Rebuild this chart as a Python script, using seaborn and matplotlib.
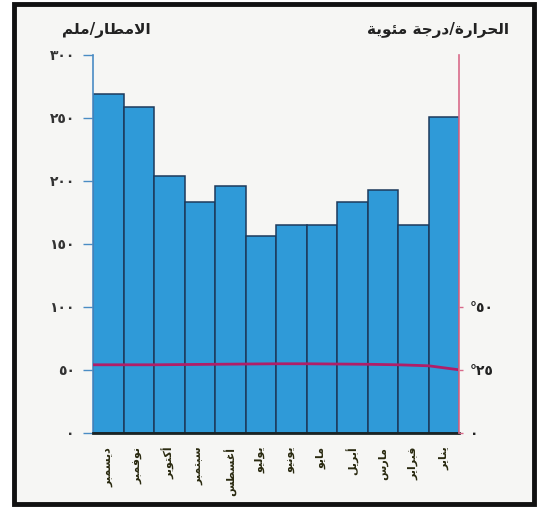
import numpy as np
import pandas as pd
import matplotlib
matplotlib.use("Agg")
import matplotlib.pyplot as plt
from matplotlib.patches import Rectangle
import seaborn as sns

# data (months left -> right)
months = ["ديسمبر", "نوفمبر", "أكتوبر", "سبتمبر", "أغسطس", "يوليو",
          "يونيو", "مايو", "أبريل", "مارس", "فبراير", "يناير"]
rain_mm = [269, 259, 204, 183, 196, 156, 165, 165, 183, 193, 165, 251]
# temperature read at the bar boundaries (13 points)
temp_c = [27.0, 27.0, 27.0, 27.1, 27.2, 27.3, 27.4, 27.4, 27.3, 27.2, 27.0, 26.6, 25.0]
rain_ticks = [0, 50, 100, 150, 200, 250, 300]
rain_tick_labels = ["٠", "٥٠", "١٠٠", "١٥٠", "٢٠٠", "٢٥٠", "٣٠٠"]
temp_ticks = [0, 25, 50]
temp_tick_labels = ["٠", "°٢٥", "°٥٠"]
title_rain = "الامطار/ملم"
title_temp = "الحرارة/درجة مئوية"

# small arabic shaper: matplotlib draws letters isolated and left to right
FORMS = {
    "ا": (0xFE8D, 2), "أ": (0xFE83, 2), "ب": (0xFE8F, 4), "ة": (0xFE93, 2),
    "ت": (0xFE95, 4), "ج": (0xFE9D, 4), "ح": (0xFEA1, 4), "د": (0xFEA9, 2),
    "ر": (0xFEAD, 2), "س": (0xFEB1, 4), "ط": (0xFEC1, 4), "غ": (0xFECD, 4),
    "ف": (0xFED1, 4), "ك": (0xFED9, 4), "ل": (0xFEDD, 4), "م": (0xFEE1, 4),
    "ن": (0xFEE5, 4), "و": (0xFEED, 2), "ي": (0xFEF1, 4), "ئ": (0xFE89, 4),
}
LAM_ALEF = {"ا": 0xFEFB, "أ": 0xFEF7}


def shape(text):
    toks = []
    i = 0
    while i < len(text):
        c = text[i]
        if c == "ل" and i + 1 < len(text) and text[i + 1] in LAM_ALEF:
            toks.append((LAM_ALEF[text[i + 1]], 2))
            i += 2
            continue
        toks.append(FORMS.get(c, c))
        i += 1
    out = []
    for k, t in enumerate(toks):
        if isinstance(t, str):
            out.append(t)
            continue
        start, n = t
        prev = toks[k - 1] if k > 0 else None
        nxt = toks[k + 1] if k + 1 < len(toks) else None
        j_prev = isinstance(prev, tuple) and prev[1] == 4
        j_next = n == 4 and isinstance(nxt, tuple)
        out.append(chr(start + (1 if j_prev else 0) + (2 if j_next else 0)))
    return "".join(reversed(out))


df = pd.DataFrame({"month": months, "rain": rain_mm})

sns.set_style("white")
plt.rcParams["font.family"] = ["DejaVu Sans"]

fig = plt.figure(figsize=(5.44, 5.08), dpi=100, facecolor="white")
fig.patches.append(Rectangle((0.026, 0.008), 0.955, 0.984, transform=fig.transFigure,
                             facecolor="#f6f6f4", edgecolor="#111111", linewidth=3.5,
                             zorder=-10))
ax = fig.add_axes([0.171, 0.148, 0.673, 0.744])
ax.patch.set_alpha(0)

sns.barplot(data=df, x="month", y="rain", color="#2f9ad8", saturation=1, width=1,
            edgecolor="#1d3a5c", linewidth=1.1, ax=ax)
ax.set_xlim(-0.5, 11.5)
ax.set_ylim(0, 300)
ax.set_xlabel("")
ax.set_ylabel("")

ax.set_yticks(rain_ticks)
ax.set_yticklabels(rain_tick_labels, fontsize=10, fontweight="bold", color="#333333")
ax.tick_params(axis="y", length=7, width=1, color="#4a8cc4", pad=6)

ax.set_xticks(np.arange(len(months)))
ax.set_xticklabels([shape(m) for m in months], rotation=90, fontsize=8,
                   fontweight="bold", color="#2a2a10", va="top")
ax.tick_params(axis="x", length=0, pad=10)
ax.set_xticks(np.arange(len(months) + 1) - 0.5, minor=True)
ax.tick_params(axis="x", which="minor", length=4, width=1, color="#333333")

for s in ["top", "right"]:
    ax.spines[s].set_visible(False)
ax.spines["left"].set_color("#4a8cc4")
ax.spines["left"].set_linewidth(1.2)
ax.spines["bottom"].set_color("#1a2424")
ax.spines["bottom"].set_linewidth(2)

# temperature on the right axis
ax2 = ax.twinx()
sns.lineplot(x=np.arange(len(temp_c)) - 0.5, y=temp_c, color="#b01e68", linewidth=2,
             ax=ax2)
ax2.set_xlim(-0.5, 11.5)
ax2.set_ylim(0, 150)
ax2.set_yticks(temp_ticks)
ax2.set_yticklabels(temp_tick_labels, fontsize=10, fontweight="bold", color="#222222")
ax2.tick_params(axis="y", length=3, width=1, color="#d86a8a", pad=5)
for s in ["top", "left", "bottom"]:
    ax2.spines[s].set_visible(False)
ax2.spines["right"].set_color("#d86a8a")
ax2.spines["right"].set_linewidth(1.2)
ax2.set_ylabel("")

fig.text(0.276, 0.94, shape(title_rain), ha="right", va="center", fontsize=11,
         fontweight="bold", color="#222222")
fig.text(0.935, 0.94, shape(title_temp), ha="right", va="center", fontsize=11,
         fontweight="bold", color="#222222")

fig.savefig("out.png", dpi=100)
